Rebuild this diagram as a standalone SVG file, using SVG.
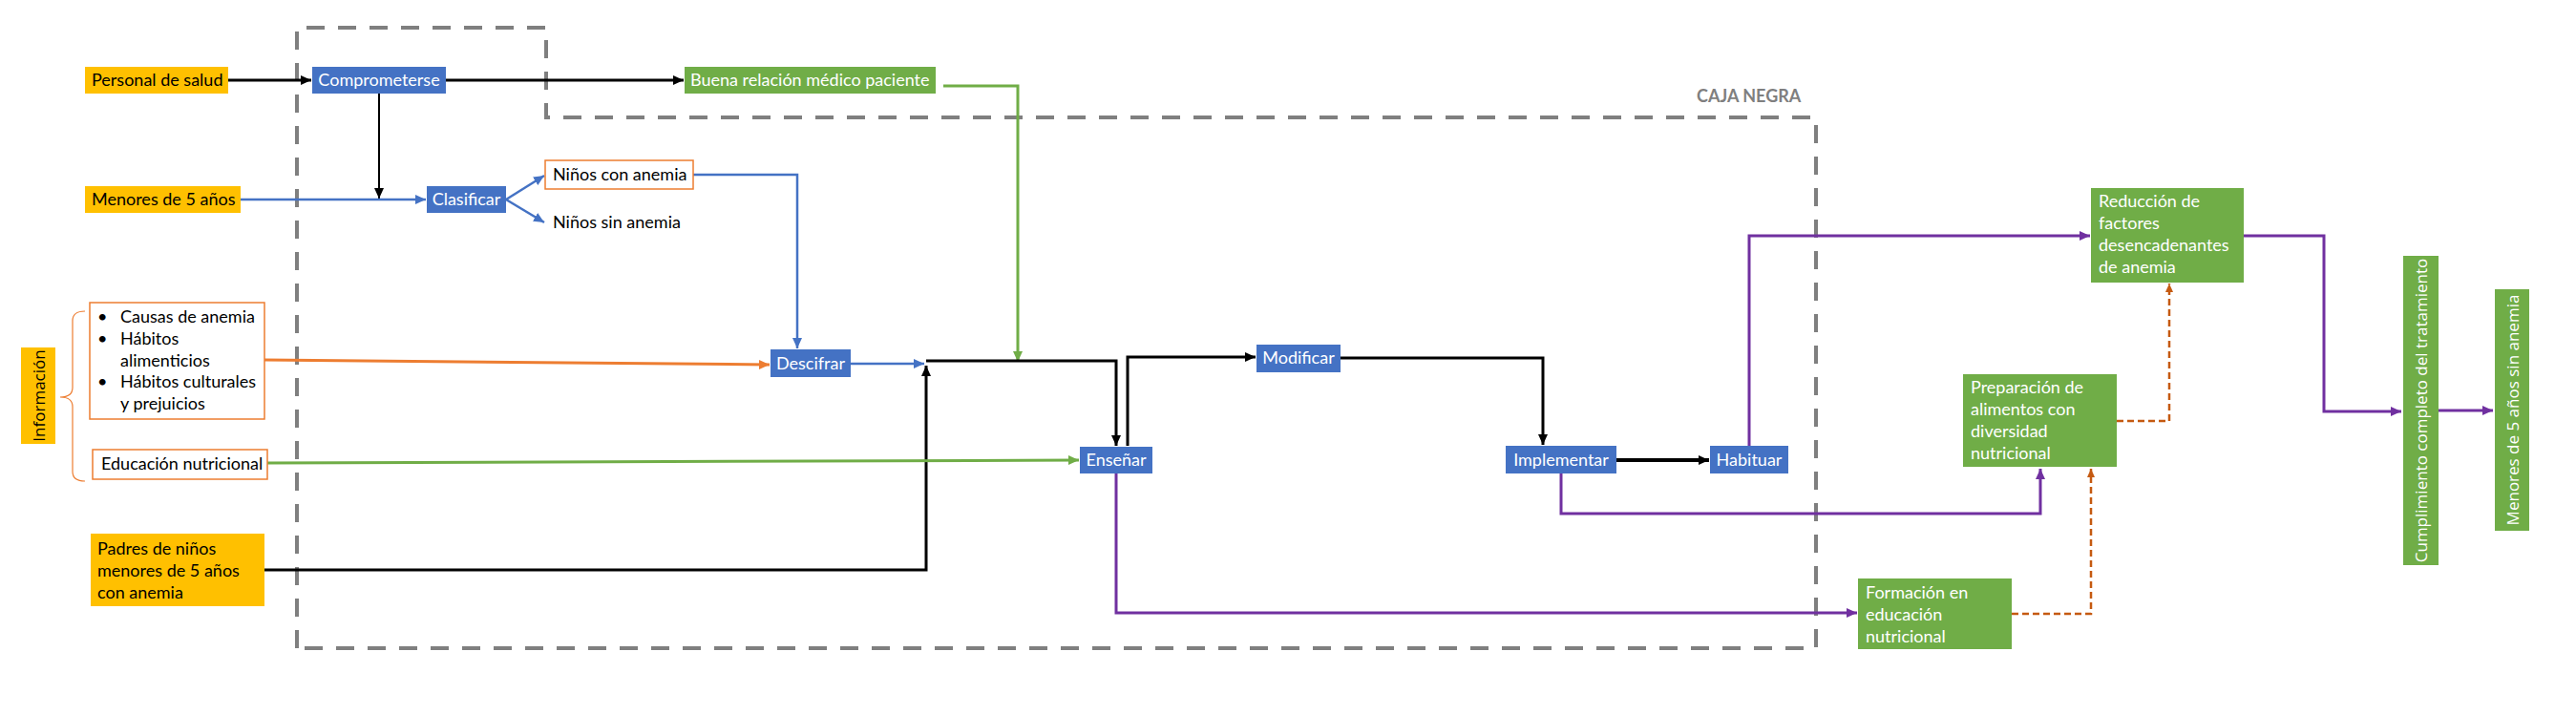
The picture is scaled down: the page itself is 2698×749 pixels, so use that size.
<svg xmlns="http://www.w3.org/2000/svg" width="2698" height="749" viewBox="0 0 2698 749">
<style>
text{font-family:Lato,"Liberation Sans",sans-serif;font-size:18px}
.w{fill:#fff}
.k{fill:#000}
.c{text-anchor:middle}
.blue{fill:#4472C4}
.green{fill:#70AD47}
.yel{fill:#FFC000}
.ob{fill:#fff;stroke:#ED7D31;stroke-width:1.5}
.vt{font-family:"Open Sans",Lato,sans-serif;font-size:17px;text-anchor:middle;dominant-baseline:central}
.ln{fill:none;stroke-linejoin:miter}
.bk{stroke:#000}
.bl{stroke:#4472C4;stroke-width:2.5}
.or{stroke:#ED7D31;stroke-width:3}
.gr{stroke:#70AD47;stroke-width:3}
.pu{stroke:#7030A0;stroke-width:3}
.od{stroke:#C55A11;stroke-width:2.5;stroke-dasharray:7 4}
.cage{fill:none;stroke:#7F7F7F;stroke-width:4;stroke-dasharray:19 14}
</style>
<defs>
<marker id="aK" markerUnits="userSpaceOnUse" markerWidth="12" markerHeight="12" refX="11" refY="6" orient="auto"><path d="M0,1 L11,6 L0,11 Z" fill="#000"/></marker>
<marker id="aB" markerUnits="userSpaceOnUse" markerWidth="12" markerHeight="12" refX="11" refY="6" orient="auto"><path d="M0,1 L11,6 L0,11 Z" fill="#4472C4"/></marker>
<marker id="aO" markerUnits="userSpaceOnUse" markerWidth="12" markerHeight="12" refX="11" refY="6" orient="auto"><path d="M0,1 L11,6 L0,11 Z" fill="#ED7D31"/></marker>
<marker id="aG" markerUnits="userSpaceOnUse" markerWidth="12" markerHeight="12" refX="11" refY="6" orient="auto"><path d="M0,1 L11,6 L0,11 Z" fill="#70AD47"/></marker>
<marker id="aP" markerUnits="userSpaceOnUse" markerWidth="12" markerHeight="12" refX="11" refY="6" orient="auto"><path d="M0,1 L11,6 L0,11 Z" fill="#7030A0"/></marker>
<marker id="aD" markerUnits="userSpaceOnUse" markerWidth="10" markerHeight="10" refX="9" refY="5" orient="auto"><path d="M0,1 L9,5 L0,9 Z" fill="#C55A11"/></marker>
</defs>
<rect width="2698" height="749" fill="#fff"/>

<g id="caja-negra">
<path class="cage" d="M311,679 V29 H572 V123 H1902 V679 Z"/>
<text x="1777" y="107" style="font-weight:bold;font-size:18px;fill:#7F7F7F">CAJA NEGRA</text>
</g>

<g id="connectors">
<path class="ln bk" stroke-width="3" d="M239,84 H326" marker-end="url(#aK)"/>
<path class="ln bk" stroke-width="3" d="M467,84 H716" marker-end="url(#aK)"/>
<path class="ln bk" stroke-width="2" d="M397,98 V208" marker-end="url(#aK)"/>
<path class="ln bl" d="M252,209 H446" marker-end="url(#aB)"/>
<path class="ln bl" d="M530,209 L570,184" marker-end="url(#aB)"/>
<path class="ln bl" d="M530,209 L570,233" marker-end="url(#aB)"/>
<path class="ln bl" d="M726,183 H835 V365" marker-end="url(#aB)"/>
<path class="ln or" d="M277,377 L806,382" marker-end="url(#aO)"/>
<path class="ln bl" d="M891,381 H968" marker-end="url(#aB)"/>
<path class="ln bk" stroke-width="3" d="M277,597 H970 V383" marker-end="url(#aK)"/>
<path class="ln gr" stroke-width="2.5" d="M988,90 H1066 V379" marker-end="url(#aG)"/>
<path class="ln bk" stroke-width="3" d="M970,378 H1169 V467" marker-end="url(#aK)"/>
<path class="ln bk" stroke-width="3" d="M1181,467 V374 H1315" marker-end="url(#aK)"/>
<path class="ln bk" stroke-width="3" d="M1404,375 H1616 V466" marker-end="url(#aK)"/>
<path class="ln gr" d="M280,485 L1130,482" marker-end="url(#aG)"/>
<path class="ln bk" stroke-width="4" d="M1693,482 H1790" marker-end="url(#aK)"/>
<path class="ln pu" d="M1832,467 V247 H2189" marker-end="url(#aP)"/>
<path class="ln pu" d="M1635,496 V538 H2137 V491" marker-end="url(#aP)"/>
<path class="ln pu" d="M1169,496 V642 H1945" marker-end="url(#aP)"/>
<path class="ln od" d="M2107,643 H2190 V491" marker-end="url(#aD)"/>
<path class="ln od" d="M2217,441 H2272 V297" marker-end="url(#aD)"/>
<path class="ln pu" d="M2350,247 H2434 V431 H2515" marker-end="url(#aP)"/>
<path class="ln pu" d="M2554,430 H2611" marker-end="url(#aP)"/>
</g>

<g id="personal-salud"><rect class="yel" x="89" y="70" width="150" height="28"/><text class="k" x="96" y="90">Personal de salud</text></g>
<g id="comprometerse"><rect class="blue" x="327" y="70" width="140" height="28"/><text class="w c" x="397" y="90">Comprometerse</text></g>
<g id="buena-relacion"><rect class="green" x="717" y="70" width="263" height="28"/><text class="w" x="723" y="90">Buena relación médico paciente</text></g>
<g id="menores-5"><rect class="yel" x="89" y="195" width="163" height="28"/><text class="k" x="96" y="215">Menores de 5 años</text></g>
<g id="clasificar"><rect class="blue" x="447" y="195" width="83" height="28"/><text class="w c" x="488.5" y="215">Clasificar</text></g>
<g id="ninos-con-anemia"><rect class="ob" x="571" y="168" width="155" height="30"/><text class="k" x="579" y="189">Niños con anemia</text></g>
<g id="ninos-sin-anemia"><text class="k" x="579" y="239">Niños sin anemia</text></g>
<g id="descifrar"><rect class="blue" x="807" y="366" width="84" height="29"/><text class="w c" x="849" y="387">Descifrar</text></g>
<g id="informacion-brace"><path d="M89,326 Q76,326 76,336 V406 Q76,416 63,416 Q76,416 76,426 V494 Q76,504 89,504" fill="none" stroke="#ED7D31" stroke-width="1.2"/></g>
<g id="informacion"><rect class="yel" x="22" y="364" width="36" height="101"/><text class="vt k" transform="translate(40,414.5) rotate(-90)">Información</text></g>
<g id="info-lista"><rect class="ob" x="94" y="317" width="183" height="122"/>
<text class="k" x="102" y="338">•</text><text class="k" x="126" y="338">Causas de anemia</text>
<text class="k" x="102" y="361">•</text><text class="k" x="126" y="361">Hábitos</text>
<text class="k" x="126" y="384">alimenticios</text>
<text class="k" x="102" y="406">•</text><text class="k" x="126" y="406">Hábitos culturales</text>
<text class="k" x="126" y="429">y prejuicios</text></g>
<g id="educacion-nutricional"><rect class="ob" x="97" y="471" width="183" height="31"/><text class="k" x="106" y="492">Educación nutricional</text></g>
<g id="padres"><rect class="yel" x="95" y="559" width="182" height="76"/><text class="k" x="102" y="581">Padres de niños</text><text class="k" x="102" y="604">menores de 5 años</text><text class="k" x="102" y="627">con anemia</text></g>
<g id="ensenar"><rect class="blue" x="1131" y="468" width="76" height="28"/><text class="w c" x="1169" y="488">Enseñar</text></g>
<g id="modificar"><rect class="blue" x="1316" y="361" width="88" height="29"/><text class="w c" x="1360" y="381">Modificar</text></g>
<g id="implementar"><rect class="blue" x="1577" y="467" width="116" height="29"/><text class="w c" x="1635" y="488">Implementar</text></g>
<g id="habituar"><rect class="blue" x="1791" y="467" width="82" height="29"/><text class="w c" x="1832" y="488">Habituar</text></g>
<g id="reduccion"><rect class="green" x="2190" y="197" width="160" height="99"/><text class="w" x="2198" y="217">Reducción de</text><text class="w" x="2198" y="240">factores</text><text class="w" x="2198" y="263">desencadenantes</text><text class="w" x="2198" y="286">de anemia</text></g>
<g id="preparacion"><rect class="green" x="2056" y="392" width="161" height="97"/><text class="w" x="2064" y="412">Preparación de</text><text class="w" x="2064" y="435">alimentos con</text><text class="w" x="2064" y="458">diversidad</text><text class="w" x="2064" y="481">nutricional</text></g>
<g id="formacion"><rect class="green" x="1946" y="606" width="161" height="74"/><text class="w" x="1954" y="627">Formación en</text><text class="w" x="1954" y="650">educación</text><text class="w" x="1954" y="673">nutricional</text></g>
<g id="cumplimiento"><rect class="green" x="2517" y="268" width="37" height="324"/><text class="vt w" transform="translate(2535.5,430) rotate(-90)">Cumplimiento completo del tratamiento</text></g>
<g id="menores-sin-anemia"><rect class="green" x="2613" y="303" width="36" height="253"/><text class="vt w" transform="translate(2631,429.5) rotate(-90)">Menores de 5 años sin anemia</text></g>
</svg>
